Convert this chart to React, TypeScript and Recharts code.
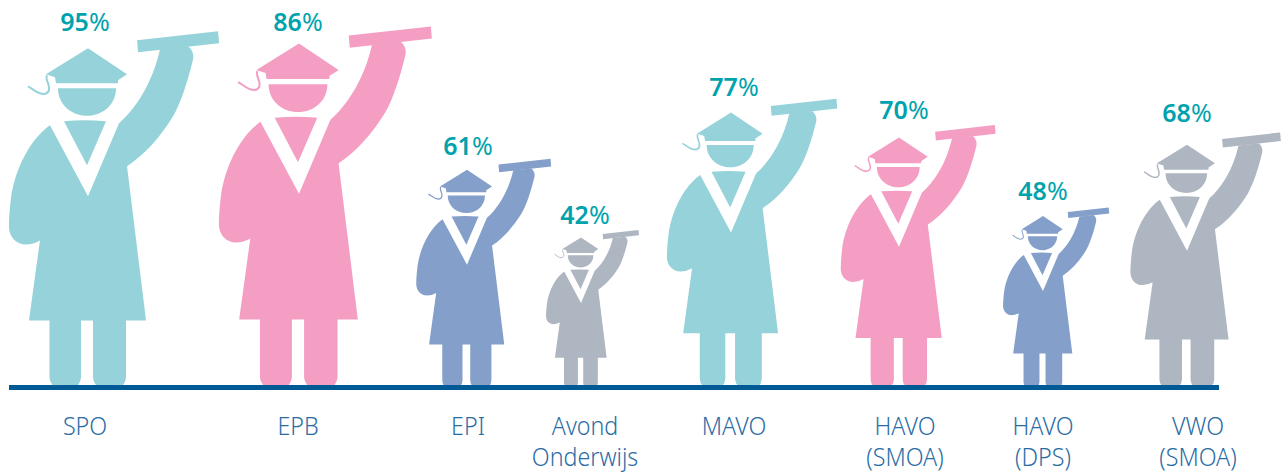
import React from "react";
import { BarChart, Bar, XAxis, YAxis, LabelList } from "recharts";

const categories = [["SPO"], ["EPB"], ["EPI"], ["Avond", "Onderwijs"], ["MAVO"], ["HAVO", "(SMOA)"], ["HAVO", "(DPS)"], ["VWO", "(SMOA)"]];
const percentages = [95, 86, 61, 42, 77, 70, 48, 68];
// The pictogram heights follow the percentages, except EPB, which the source draws taller than 86.
const drawnHeights = [95, 96.3, 61, 42, 77, 70, 48, 68];
const figureSlots = [88, 299, 467, 581, 731, 899, 1043, 1187];
const labelSlots = [85, 298, 468, 585, 734, 905, 1043, 1198];
const valueSlots = [85, 298, 468, 585, 734, 904, 1043, 1187];
const valueLift = [0, -4, -2, -3, 0, 2, -1, 6];

const palette = ["#95d2d9", "#f49ec4", "#84a0ca", "#aeb6c1"];
const BASE_Y = 387.5;
const UNIT = 356;

const data = categories.map((c, i) => ({
  key: i,
  slot: figureSlots[i],
  drawn: drawnHeights[i],
  pct: percentages[i],
}));

const ROBE =
  "M50 126 L88 197 L119 124 C135 110 152 85 160 50 L188 47 C192 50 194 55 193 60 C187 85 180 105 173 117 C160 138 145 155 127 167 L146 321 L126 321 L126 377 A13 13 0 0 1 113 390 L106 390 A13 13 0 0 1 93 377 L93 321 L81 321 L81 377 A13 13 0 0 1 68 390 L62.5 390 A13 13 0 0 1 49.5 377 L49.5 321 L29 321 L40 241 Q33 245 26 245 C16 245 9 237 9 227 C9 218 10 208 11 199 C15 170 30 140 50 126 Z";
const DIPLOMA = "M137 41 L218 32 L219 44 L138 53 Z";
const CHEST = "M64 122 Q85 120 106 122 L87 166 Z";
const HEAD = "M58 89 L116 89 C116 105 103 116.5 87 116.5 C71 116.5 58 105 58 89 Z";
const CAP = "M88 49 L127 75 L118 81 L118 84 L56 84 L55 78 L46 75 Z";
const TASSEL = "M47 76 C45 80 49 84 49 88 C50 93 46 96 40 94 C36 93 32 89 28 87";

function Graduate(props: any) {
  const { x, y, width, height, index } = props;
  const s = height / UNIT;
  const cx = x + width / 2;
  const base = y + height;
  const fill = palette[index % palette.length];
  return (
    <g transform={`translate(${cx - 88 * s} ${base - 388 * s}) scale(${s})`}>
      <path d={ROBE} fill={fill} />
      <path d={DIPLOMA} fill={fill} />
      <path d={CHEST} fill={fill} />
      <path d={HEAD} fill={fill} />
      <path d={CAP} fill={fill} />
      <path d={TASSEL} fill="none" stroke={fill} strokeWidth={2} />
    </g>
  );
}

function ValueLabel(props: any) {
  const { y, height, index } = props;
  const s = height / UNIT;
  const capTop = y + 17 * s;
  return (
    <text
      x={valueSlots[index]}
      y={capTop - 17 - valueLift[index]}
      textAnchor="middle"
      fill="#00a3ad"
      fontFamily="'Noto Sans', sans-serif"
      fontSize={25}
    >
      <tspan fontWeight={600}>{percentages[index]}</tspan>
      <tspan fontWeight={400}>%</tspan>
    </text>
  );
}

function CategoryTick(props: any) {
  const { payload, y } = props;
  const i = labelSlots.indexOf(payload.value);
  const lines = categories[i] ?? [];
  return (
    <text
      transform={`translate(${payload.value} 0) scale(0.93 1)`}
      textAnchor="middle"
      fill="#2a6da5"
      fontFamily="'Noto Sans', sans-serif"
      fontWeight={300}
      fontSize={25}
    >
      {lines.map((line, k) => (
        <tspan key={k} x={0} y={y + 40 + k * 31}>
          {line}
        </tspan>
      ))}
    </text>
  );
}

export default function App() {
  return (
    <div style={{ position: "absolute", left: 0, top: 0, width: 1284, height: 476 }}>
      <BarChart
        width={1284}
        height={476}
        data={data}
        margin={{ top: 0, right: 65, bottom: 476 - BASE_Y - 60, left: 9 }}
      >
        <XAxis
          type="number"
          dataKey="slot"
          domain={[9, 1219]}
          ticks={labelSlots}
          interval={0}
          height={60}
          tick={<CategoryTick />}
          tickLine={false}
          axisLine={{ stroke: "#005a96", strokeWidth: 5 }}
        />
        <YAxis hide type="number" domain={[0, BASE_Y / 3.75]} />
        <Bar dataKey="drawn" barSize={100} isAnimationActive={false} shape={<Graduate />}>
          <LabelList dataKey="pct" content={<ValueLabel />} />
        </Bar>
      </BarChart>
    </div>
  );
}
